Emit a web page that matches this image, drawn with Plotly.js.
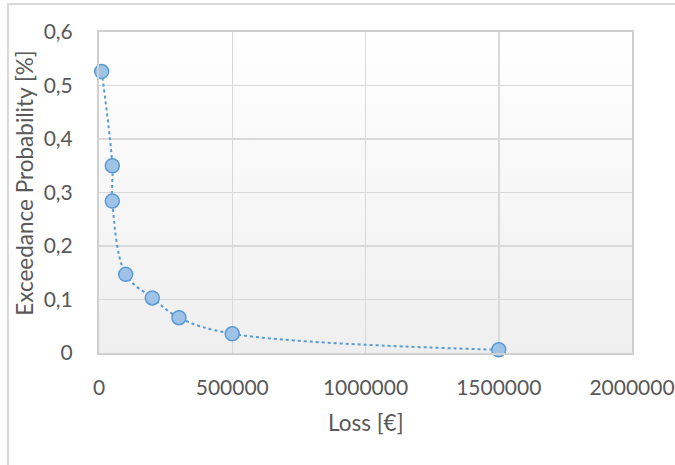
<!DOCTYPE html>
<html>
<head>
<meta charset="utf-8">
<script src="https://cdn.plot.ly/plotly-3.0.1.min.js"></script>
<style>
  html, body { margin: 0; padding: 0; background: #ffffff; }
  #chart { width: 675px; height: 465px; position: relative; }
  #frame { position: absolute; left: 7px; top: 3px; width: 720px; height: 520px;
           border-left: 2px solid #d9d9d9; border-top: 2px solid #d9d9d9; pointer-events: none; }
</style>
</head>
<body>
<div id="chart"></div>
<div id="frame"></div>
<script>
const lossValues = [10000, 50000, 50000, 100000, 200000, 300000, 500000, 1500000];
const exceedanceProb = [0.526, 0.350, 0.284, 0.147, 0.103, 0.066, 0.036, 0.006];
const xTickValues = [0, 500000, 1000000, 1500000, 2000000];
const yTickValues = [0, 0.1, 0.2, 0.3, 0.4, 0.5, 0.6];
const xTitle = 'Loss [€]';
const yTitle = 'Exceedance Probability [%]';

const gradSvg = '<svg xmlns="http://www.w3.org/2000/svg" width="10" height="100" preserveAspectRatio="none">' +
  '<defs><linearGradient id="g" x1="0" y1="0" x2="0" y2="1">' +
  '<stop offset="0" stop-color="#ffffff"/><stop offset="1" stop-color="#efefef"/></linearGradient></defs>' +
  '<rect width="10" height="100" fill="url(#g)"/></svg>';
const gradUri = 'data:image/svg+xml;base64,' + btoa(gradSvg);

const trace = {
  x: lossValues,
  y: exceedanceProb,
  type: 'scatter',
  mode: 'lines+markers',
  line: { color: '#5b9bd5', width: 2, dash: 'dot', shape: 'spline', smoothing: 1 },
  marker: { size: 14, color: '#9fc2e7', line: { color: '#5b9bd5', width: 1.5 } },
  hoverinfo: 'x+y',
  cliponaxis: false
};

const fontFam = 'Lato, "Open Sans", "DejaVu Sans", sans-serif';
const titleFont = { family: fontFam, size: 22.5, color: '#595959' };
const tickFont = { family: fontFam, size: 21, color: '#595959' };
const layout = {
  width: 675,
  height: 465,
  margin: { l: 99, r: 43, t: 32, b: 112 },
  paper_bgcolor: '#ffffff',
  plot_bgcolor: 'rgba(0,0,0,0)',
  separators: ',.',
  showlegend: false,
  font: { family: fontFam, size: 21, color: '#595959' },
  images: [{
    source: gradUri, xref: 'paper', yref: 'paper', x: 0, y: 1,
    sizex: 1, sizey: 1, sizing: 'stretch', layer: 'below', xanchor: 'left', yanchor: 'top'
  }],
  annotations: [
    { text: xTitle, xref: 'paper', yref: 'paper', x: 0.5, y: -0.218,
      xanchor: 'center', yanchor: 'middle', showarrow: false, font: titleFont },
    { text: yTitle, xref: 'paper', yref: 'paper', x: -0.139, y: 0.53, textangle: -90,
      xanchor: 'center', yanchor: 'middle', showarrow: false, font: titleFont }
  ],
  xaxis: {
    range: [0, 2000000],
    tickvals: xTickValues,
    tickformat: 'd',
    ticks: '',
    ticklabelstandoff: 15,
    showgrid: true,
    gridcolor: '#d9d9d9',
    gridwidth: 1.5,
    zeroline: false,
    showline: true,
    linecolor: '#d0d0d0',
    linewidth: 2,
    mirror: true,
    tickfont: tickFont
  },
  yaxis: {
    range: [0, 0.6],
    tickvals: yTickValues,
    tickformat: '.1~f',
    ticks: '',
    ticklabelstandoff: 20,
    showgrid: true,
    gridcolor: '#d9d9d9',
    gridwidth: 1.5,
    zeroline: false,
    showline: true,
    linecolor: '#d0d0d0',
    linewidth: 2,
    mirror: true,
    tickfont: tickFont
  }
};

Plotly.newPlot('chart', [trace], layout, { displayModeBar: false, staticPlot: true });
</script>
</body>
</html>
